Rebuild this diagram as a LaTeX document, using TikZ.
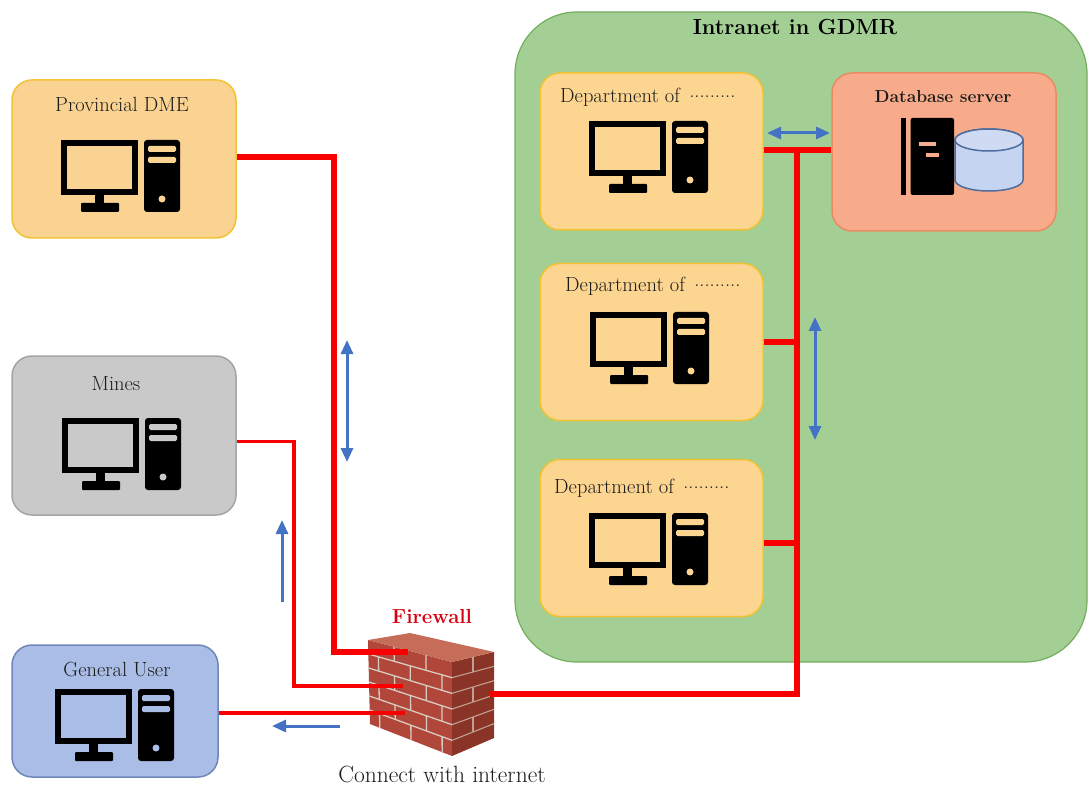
\documentclass[tikz,border=0pt]{standalone}
\usetikzlibrary{arrows.meta,calc}

\definecolor{greenbg}{HTML}{A3CF95}
\definecolor{greenedge}{HTML}{74AD5E}
\definecolor{deptfill}{HTML}{FCD591}
\definecolor{deptedge}{HTML}{F2C232}
\definecolor{provfill}{HTML}{FAD291}
\definecolor{minefill}{HTML}{C9C9C9}
\definecolor{mineedge}{HTML}{A5A5A5}
\definecolor{userfill}{HTML}{AABDE6}
\definecolor{useredge}{HTML}{6F86BA}
\definecolor{dbfill}{HTML}{F8AB8A}
\definecolor{dbedge}{HTML}{E98C62}
\definecolor{netred}{HTML}{F80000}
\definecolor{flowblue}{HTML}{4472C4}
\definecolor{labelgray}{HTML}{1C1C1C}
\definecolor{cylfill}{HTML}{C5D5F1}
\definecolor{cyledge}{HTML}{4E6C9E}
\definecolor{brickfront}{HTML}{B0473A}
\definecolor{brickside}{HTML}{8A3428}
\definecolor{bricktop}{HTML}{C66D5A}
\definecolor{mortar}{HTML}{D8CCC0}
\definecolor{firered}{HTML}{D80010}

\newcommand\deptdots{\hspace{0.45em}\raisebox{0.22em}{.........}}

\tikzset{
  box/.style={draw, line width=1.5pt, rounded corners=20pt,
    minimum width=224pt, minimum height=158pt, inner sep=0pt},
  lbl/.style={text=labelgray, font=\fontsize{20.5}{24}\selectfont, inner sep=0pt},
  redthick/.style={draw=netred, line width=5.5pt},
  redthin/.style={draw=netred, line width=3.5pt},
  flow/.style={draw=flowblue, line width=3pt,
    arrows={-Triangle[length=14pt,width=12pt]}},
  flowboth/.style={draw=flowblue, line width=3pt,
    arrows={Triangle[length=14pt,width=12pt]-Triangle[length=14pt,width=12pt]}},
  pics/pcicon/.style={code={
    \draw[black, line width=6pt] (3,3) rectangle (74,52);
    \fill[black] (34,54) rectangle (43,64);
    \fill[black, rounded corners=1pt] (20,63) rectangle (58,72);
    \fill[black, rounded corners=3pt] (83,0) rectangle (119,72);
    \fill[#1, rounded corners=1.5pt] (87,6) rectangle (115,12);
    \fill[#1, rounded corners=1.5pt] (87,17) rectangle (115,23);
    \fill[#1] (101,59) circle (3.5pt);
  }},
}

\begin{document}
\begin{tikzpicture}[x=1pt,y=-1pt]
\useasboundingbox (0,0) rectangle (1089,791);
\fill[white] (0,0) rectangle (1089,791);

% intranet region
\node[draw=greenedge, fill=greenbg, line width=1.2pt, rounded corners=62pt,
  minimum width=572pt, minimum height=650pt, inner sep=0pt] (intranet) at (801,337) {};
\node[font=\bfseries\fontsize{21.8}{26}\selectfont, text=black] (title) at (795,27) {Intranet in GDMR};

% external sites
\node[box, fill=provfill, draw=deptedge] (prov) at (124,159) {};
\node[lbl] (provlbl) at (122,104) {Provincial DME};
\pic at (61,140) {pcicon=provfill};

\node[box, fill=minefill, draw=mineedge, minimum height=159pt] (mines) at (124,435.5) {};
\node[lbl] (mineslbl) at (116,384) {Mines};
\pic at (62,418) {pcicon=minefill};

\node[box, fill=userfill, draw=useredge, minimum width=206pt, minimum height=132pt] (user) at (115,711) {};
\node[lbl] (userlbl) at (117,669) {General User};
\pic at (55,689) {pcicon=userfill};

% departments
\node[box, fill=deptfill, draw=deptedge, minimum width=223pt, minimum height=157pt] (dept1) at (651.5,151.5) {};
\node[lbl, anchor=west] (dept1lbl) at (560,97) {Department of\deptdots};
\pic at (589,121) {pcicon=deptfill};

\node[box, fill=deptfill, draw=deptedge, minimum width=223pt, minimum height=157pt] (dept2) at (651.5,342) {};
\node[lbl, anchor=west] (dept2lbl) at (565,286) {Department of\deptdots};
\pic at (590,312) {pcicon=deptfill};

\node[box, fill=deptfill, draw=deptedge, minimum width=223pt, minimum height=157pt] (dept3) at (651.5,538) {};
\node[lbl, anchor=west] (dept3lbl) at (554,488) {Department of\deptdots};
\pic at (589,513) {pcicon=deptfill};

% database server
\node[box, fill=dbfill, draw=dbedge] (db) at (944,152) {};
\node[lbl, font=\bfseries\fontsize{17.4}{21}\selectfont] (dblbl) at (943,97) {Database server};
\fill[cylfill, draw=cyledge, line width=1.5pt]
  (955,140) -- (955,180) arc[start angle=180, end angle=360, x radius=34, y radius=-11]
  -- (1023,140) arc[start angle=0, end angle=180, x radius=34, y radius=-11] -- cycle;
\draw[cyledge, line width=1.5pt, fill=cylfill!85!white] (989,140) ellipse[x radius=34, y radius=11];
\fill[black] (900.7,118) rectangle (906,195);
\fill[black, rounded corners=2pt] (910.7,118) rectangle (954,195);
\fill[dbfill] (919,142) rectangle (936,146);
\fill[dbfill] (926,153) rectangle (939,157);

% firewall
\node[minimum width=126pt, minimum height=124pt, inner sep=0pt] (fw) at (431,694) {};
\coordinate (wA) at (368,640);
\coordinate (wB) at (452,662);
\coordinate (wC) at (494,652);
\coordinate (wD) at (410,633);
\coordinate (wAb) at (370,724);
\coordinate (wBb) at (452,756);
\coordinate (wCb) at (494,738);
\fill[brickfront] (wA) -- (wB) -- (wBb) -- (wAb) -- cycle;
\fill[brickside] (wB) -- (wC) -- (wCb) -- (wBb) -- cycle;
\fill[bricktop] (wA) -- (wD) -- (wC) -- (wB) -- cycle;
\foreach \r in {1,...,5} {
  \draw[mortar, line width=1.3pt] ($(wA)!\r/6!(wAb)$) -- ($(wB)!\r/6!(wBb)$);
  \draw[mortar!70!brickside, line width=1.1pt] ($(wB)!\r/6!(wBb)$) -- ($(wC)!\r/6!(wCb)$);
}
\foreach \r in {0,...,5} {
  \pgfmathsetmacro\ta{\r/6}
  \pgfmathsetmacro\tb{(\r+1)/6}
  \coordinate (L0) at ($(wA)!\ta!(wAb)$);
  \coordinate (L1) at ($(wA)!\tb!(wAb)$);
  \coordinate (R0) at ($(wB)!\ta!(wBb)$);
  \coordinate (R1) at ($(wB)!\tb!(wBb)$);
  \coordinate (S0) at ($(wC)!\ta!(wCb)$);
  \coordinate (S1) at ($(wC)!\tb!(wCb)$);
  \ifodd\r
    \foreach \s in {0.12,0.5,0.88} {\draw[mortar, line width=1.3pt] ($(L0)!\s!(R0)$) -- ($(L1)!\s!(R1)$);}
  \else
    \foreach \s in {0.31,0.69} {\draw[mortar, line width=1.3pt] ($(L0)!\s!(R0)$) -- ($(L1)!\s!(R1)$);}
    \draw[mortar!70!brickside, line width=1.1pt] ($(R0)!0.5!(S0)$) -- ($(R1)!0.5!(S1)$);
  \fi
}
\node[font=\bfseries\fontsize{20.3}{24}\selectfont, text=firered] (fwlbl) at (432,617) {Firewall};
\node[lbl, font=\fontsize{23.5}{28}\selectfont] (netlbl) at (442,774) {Connect with internet};

% connection points
\coordinate (fwa) at (408,652);
\coordinate (fwb) at (403,686);
\coordinate (fwc) at (405,713);
\coordinate (fwout) at (490,694);
\coordinate (bustop) at (797,150);

% network links
\draw[redthick] ([yshift=2pt]prov.east) -- ++(97,0) |- (fwa);
\draw[redthin] ([yshift=-6pt]mines.east) -- ++(57,0) |- (fwb);
\draw[redthin] ([yshift=-2pt]user.east) -- (fwc);
\draw[redthick] (fwout) -| (bustop);
\draw[redthick] (dept1.east |- bustop) -- (db.west |- bustop);
\draw[redthick] (dept2.east) -- (dept2.east -| bustop);
\draw[redthick] ([yshift=-5pt]dept3.east) -- ([yshift=-5pt]dept3.east -| bustop);

% data flow arrows
\coordinate (a1s) at (347,340); \coordinate (a1e) at (347,462);
\coordinate (a2s) at (282,602); \coordinate (a2e) at (282,520);
\coordinate (a3s) at (340,726); \coordinate (a3e) at (272,726);
\coordinate (a4s) at (767,133); \coordinate (a4e) at (830,133);
\coordinate (a5s) at (815,317); \coordinate (a5e) at (815,440);
\draw[flowboth] (a1s) -- (a1e);
\draw[flow] (a2s) -- (a2e);
\draw[flow] (a3s) -- (a3e);
\draw[flowboth] (a4s) -- (a4e);
\draw[flowboth] (a5s) -- (a5e);
\end{tikzpicture}
\end{document}
